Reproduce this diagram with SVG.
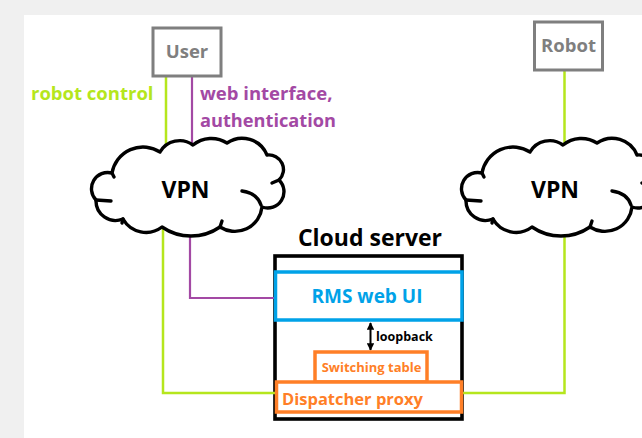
<svg xmlns="http://www.w3.org/2000/svg" xmlns:xlink="http://www.w3.org/1999/xlink" width="642" height="438" viewBox="0 0 642 438">
  <style>
    text { font-family: "Open Sans", "Liberation Sans", sans-serif; font-weight: bold; }
    .endpoint rect { fill: #ffffff; stroke: #7f7f7f; stroke-width: 3; }
    .endpoint text { fill: #7f7f7f; font-size: 18.5px; text-anchor: middle; }
    .cloud-outline { fill: #ffffff; stroke: #000000; stroke-width: 3.4; stroke-linejoin: round; stroke-linecap: round; }
    .cloud-detail { fill: none; stroke: #000000; stroke-width: 3.4; stroke-linecap: round; }
    .vpn-label { fill: #000000; font-size: 23px; text-anchor: middle; }
    .green { fill: none; stroke: #b5e61d; stroke-width: 2.5; }
    .purple { fill: none; stroke: #a349a4; stroke-width: 2.2; }
    .box { fill: #ffffff; stroke-width: 3.5; }
  </style>
  <defs>
    <marker id="tip" viewBox="0 0 10 10" refX="9" refY="5" markerWidth="3.8" markerHeight="3.8" orient="auto-start-reverse">
      <path d="M0,0 L10,5 L0,10 Z" fill="#000000"/>
    </marker>
    <!-- VPN cloud, drawn around the left position -->
    <g id="cloud">
      <path class="cloud-outline" d="M112,173
        A31.5,31.5 0 0 1 160,152
        A22.7,22.7 0 0 1 193,145
        A29,29 0 0 1 227,143
        A26.8,26.8 0 0 1 267,155
        A14.6,14.6 0 0 1 279,180
        A16.3,16.3 0 0 1 262,207
        A27.3,27.3 0 0 1 220,227
        A51,51 0 0 1 162,227
        A26.5,26.5 0 0 1 123,219
        A19.6,19.6 0 0 1 96,200
        A16.3,16.3 0 0 1 112,173 Z"/>
      <path class="cloud-detail" d="M242,191 Q257,193 261,205"/>
      <path class="cloud-detail" d="M272,183 L279,180"/>
      <path class="cloud-detail" d="M96,200 L111,201"/>
      <path class="cloud-detail" d="M123,219 L122,223"/>
      <path class="cloud-detail" d="M222,221 L220,227"/>
      <path class="cloud-detail" d="M112,173 L114,177"/>
    </g>
  </defs>

  <!-- canvas -->
  <rect x="0" y="0" width="642" height="438" fill="#f0f0f0"/>
  <rect x="24" y="15" width="618" height="423" fill="#ffffff"/>

  <!-- cloud server frame -->
  <g id="cloud-server">
    <text x="370" y="246" font-size="23" fill="#000000" text-anchor="middle">Cloud server</text>
    <rect x="275" y="256" width="187" height="163" fill="#ffffff" stroke="#000000" stroke-width="3.6"/>
  </g>

  <!-- connectors -->
  <g id="connectors">
    <path class="green" d="M166,77 L166,190 L163,200 L163,393 L275,393"/>
    <path class="purple" d="M192,77 L192,190 L190,200 L190,298 L275,298"/>
    <path class="green" d="M564.5,71 L564.5,393 L462,393"/>
    <line x1="370.5" y1="323" x2="370.5" y2="350" stroke="#000000" stroke-width="2" marker-start="url(#tip)" marker-end="url(#tip)"/>
    <text x="376" y="341" font-size="12.5" fill="#000000">loopback</text>
    <text x="31" y="100" font-size="18.5" fill="#b5e61d">robot control</text>
    <text x="200" y="100" font-size="18.5" fill="#a349a4">web interface,</text>
    <text x="200" y="127" font-size="18.2" fill="#a349a4">authentication</text>
  </g>

  <!-- endpoints -->
  <g id="user" class="endpoint">
    <rect x="153" y="28" width="68" height="48"/>
    <text x="187" y="58">User</text>
  </g>
  <g id="robot" class="endpoint">
    <rect x="534.5" y="22" width="68" height="48"/>
    <text x="568.5" y="52">Robot</text>
  </g>

  <!-- VPN clouds -->
  <g id="vpn-user">
    <use xlink:href="#cloud" href="#cloud"/>
    <text class="vpn-label" x="185.5" y="198">VPN</text>
  </g>
  <g id="vpn-robot">
    <use xlink:href="#cloud" href="#cloud" x="370"/>
    <text class="vpn-label" x="555" y="198">VPN</text>
  </g>

  <!-- server components -->
  <g id="rms-web-ui">
    <rect class="box" x="275.5" y="272" width="186.5" height="48" stroke="#00a2e8"/>
    <text x="367" y="303" font-size="19" fill="#00a2e8" text-anchor="middle">RMS web UI</text>
  </g>
  <g id="switching-table">
    <rect class="box" x="315" y="352" width="112" height="30" stroke="#ff7f27"/>
    <text x="371.5" y="371.5" font-size="13" fill="#ff7f27" text-anchor="middle">Switching table</text>
  </g>
  <g id="dispatcher-proxy">
    <rect class="box" x="276.5" y="382" width="185" height="30" stroke="#ff7f27"/>
    <text x="282" y="405" font-size="16.5" fill="#ff7f27">Dispatcher proxy</text>
  </g>
</svg>
